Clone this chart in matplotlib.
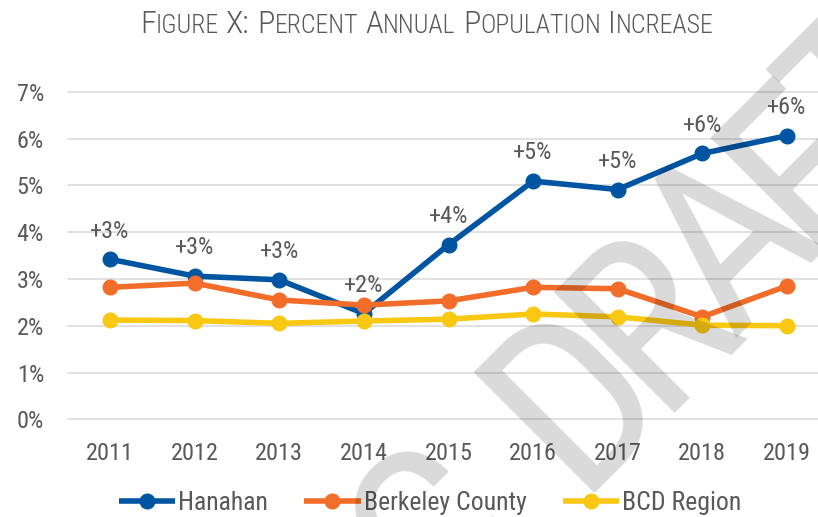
"""
Percent annual population increase, 2011-2019: Hanahan against Berkeley
County and the BCD region. Excel-like line chart with a small-caps title,
data labels on the Hanahan series and a diagonal draft watermark.
"""

import matplotlib
matplotlib.use("Agg")

import matplotlib.pyplot as plt
import numpy as np
from matplotlib import font_manager
from matplotlib.font_manager import FontProperties

# ---------------------------------------------------------------------------
# Data (percent)
# ---------------------------------------------------------------------------

YEARS = ["2011", "2012", "2013", "2014", "2015", "2016", "2017", "2018", "2019"]
HANAHAN = [3.42, 3.06, 2.98, 2.26, 3.73, 5.09, 4.91, 5.68, 6.06]
BERKELEY = [2.82, 2.91, 2.55, 2.44, 2.53, 2.82, 2.79, 2.19, 2.85]
BCD_REGION = [2.12, 2.11, 2.05, 2.10, 2.14, 2.25, 2.19, 2.01, 2.00]
SERIES_LABELS = ["Hanahan", "Berkeley County", "BCD Region"]
Y_TICKS = [0, 1, 2, 3, 4, 5, 6, 7]

TITLE = "Figure X: Percent Annual Population Increase"
WATERMARK_LEAD = "C"       # tail of the word before, mostly off the page
WATERMARK = "DRAFT"

# ---------------------------------------------------------------------------
# Style
# ---------------------------------------------------------------------------

W, H, DPI = 818, 517, 100
GRAY = "#595959"
GRID = "#d9d9d9"
COLORS = ["#0055a2", "#f26d2a", "#f9c813"]


def _first_font(candidates):
    for name in candidates:
        try:
            font_manager.findfont(FontProperties(family=name),
                                  fallback_to_default=False)
            return name
        except ValueError:
            continue
    return "DejaVu Sans"


FONT = _first_font(["Roboto Condensed", "Liberation Sans Narrow",
                    "DejaVu Sans Condensed", "Roboto"])

plt.rcParams.update({
    "font.family": [FONT, "DejaVu Sans"],
    "axes.spines.top": False, "axes.spines.right": False,
    "axes.spines.left": False, "axes.spines.bottom": False,
    "figure.facecolor": "white",
})


def _measure(fig, fp):
    """Ink width and advance helpers (pixels) for one font setting."""
    renderer = fig.canvas.get_renderer()

    def width(s):
        return renderer.get_text_width_height_descent(s, fp, ismath=False)[0]

    def advance(s):
        return width("H" + s + "H") - width("HH")

    return width, advance


def _small_caps_title(fig, text, cx, baseline, big, small, color):
    """Draw ``text`` in faux small caps, centred on pixel column ``cx``."""
    fps = {size: FontProperties(family=FONT, size=size, weight="light")
           for size in (big, small)}
    advs = {size: _measure(fig, fp)[1] for size, fp in fps.items()}

    runs = []
    for i, word in enumerate(text.split(" ")):
        if i:
            runs.append((" ", big))
        for ch in word:
            size = small if ch.islower() else big
            if runs and runs[-1][0] != " " and runs[-1][1] == size:
                runs[-1] = (runs[-1][0] + ch.upper(), size)
            else:
                runs.append((ch.upper(), size))

    widths = [advs[size](s) for s, size in runs]
    x = cx - sum(widths) / 2
    for (s, size), adv in zip(runs, widths):
        if s != " ":
            fig.text(x / W, baseline / H, s, fontproperties=fps[size],
                     color=color, ha="left", va="baseline")
        x += adv


def _watermark(fig, lead, word, foot, size, pitch, angle=45):
    """Diagonal watermark, one letter at a time so the pitch can be tight.

    ``foot`` is the pixel spot (y up) of the first letter's lower-left ink
    corner; ``pitch`` shrinks the natural letter advance.
    """
    fp = FontProperties(family=FONT, size=size)
    width, advance = _measure(fig, fp)
    rsb_h = (width("HH") - 2 * width("H")) / 2
    lsb = width("H" + word[0]) - width("H") - width(word[0]) - rsb_h
    ang = np.deg2rad(angle)
    ux, uy = np.cos(ang), np.sin(ang)

    def put(s, b):
        fig.text((foot[0] + b * ux) / W, (foot[1] + b * uy) / H, s,
                 fontproperties=fp, rotation=angle, rotation_mode="anchor",
                 ha="left", va="baseline", color="black", alpha=0.15,
                 zorder=20)

    b = -lsb
    for ch in word:
        put(ch, b)
        b += pitch * advance(ch)
    # the letter before the gap sits with its right edge just behind the D
    put(lead, -60 - width(lead) - lsb)


# ---------------------------------------------------------------------------
# Figure
# ---------------------------------------------------------------------------

fig = plt.figure(figsize=(W / DPI, H / DPI), dpi=DPI)
ax = fig.add_axes([67.7 / W, (H - 419.3) / H, 761.6 / W, 327.6 / H])

x = np.arange(len(YEARS))
for vals, label, color, z in zip([HANAHAN, BERKELEY, BCD_REGION],
                                 SERIES_LABELS, COLORS, [3, 4, 5]):
    ax.plot(x, vals, color=color, linewidth=4, marker="o", markersize=10.5,
            markerfacecolor=color, markeredgecolor=color, label=label,
            zorder=z, solid_joinstyle="round", solid_capstyle="butt")

for xi, v in zip(x, HANAHAN):
    ax.annotate(f"+{v:.0f}%", (xi, v), xytext=(0, 15.6),
                textcoords="offset points", ha="center", va="baseline",
                fontsize=17.5, color=GRAY, zorder=6)

ax.set_xlim(-0.5, len(YEARS) - 0.5)
ax.set_ylim(0, 7)
ax.set_xticks(x)
ax.set_xticklabels(YEARS)
ax.set_yticks(Y_TICKS)
ax.set_yticklabels([f"{t}%" for t in Y_TICKS])
ax.tick_params(axis="both", length=0, labelsize=17.5, labelcolor=GRAY)
ax.tick_params(axis="x", pad=16.0)
ax.tick_params(axis="y", pad=17.0)
ax.grid(axis="y", color=GRID, linewidth=1.1)
ax.grid(axis="x", visible=False)
ax.set_axisbelow(True)
for line in ax.get_ygridlines():
    line.set_clip_on(False)

fig.legend(loc="center", bbox_to_anchor=(430 / W, 14 / H), ncol=3,
           frameon=False, fontsize=18.5, labelcolor=GRAY, handlelength=2.2,
           handletextpad=0.12, columnspacing=1.4, borderpad=0,
           borderaxespad=0)

_small_caps_title(fig, TITLE, cx=427, baseline=H - 33.3, big=23.2,
                  small=18.6, color=GRAY)
_watermark(fig, WATERMARK_LEAD, WATERMARK, foot=(577, 24), size=172,
           pitch=0.83)

fig.savefig("out.png", dpi=DPI)
